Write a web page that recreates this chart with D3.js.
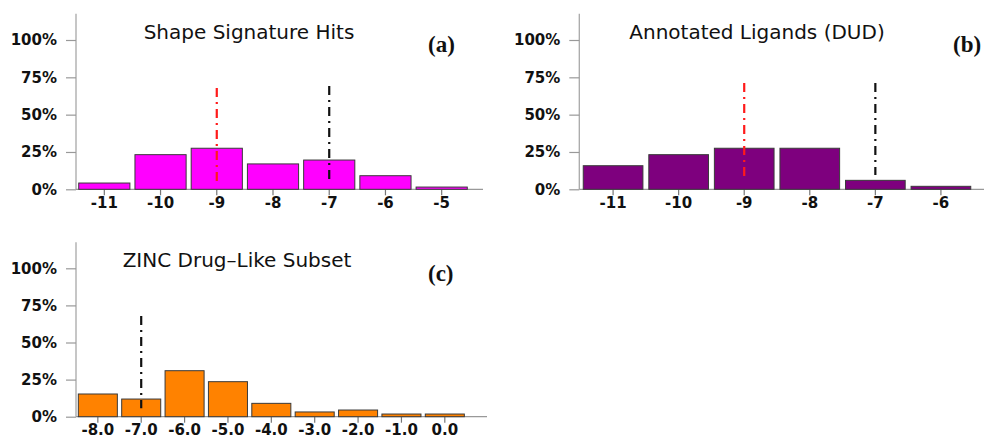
<!DOCTYPE html>
<html><head><meta charset="utf-8">
<script src="https://cdn.jsdelivr.net/npm/d3@7"></script>
<style>html,body{margin:0;padding:0;background:#fff;}svg{display:block;}</style>
</head><body>
<svg id="chart" width="984" height="438"></svg>
<script>
// ---- data ----
const yTickValues = [0, 25, 50, 75, 100];
const yTickLabels = ["0%", "25%", "50%", "75%", "100%"];

const catsA = ["-11", "-10", "-9", "-8", "-7", "-6", "-5"];
const valsA = [4.2, 23.2, 27.5, 17.0, 19.6, 9.1, 1.5];

const catsB = ["-11", "-10", "-9", "-8", "-7", "-6"];
const valsB = [15.8, 23.2, 27.5, 27.5, 6.0, 2.0];

const catsC = ["-8.0", "-7.0", "-6.0", "-5.0", "-4.0", "-3.0", "-2.0", "-1.0", "0.0"];
const valsC = [15.3, 11.9, 31.0, 23.6, 9.0, 3.2, 4.5, 1.8, 1.8];

const titles = ["Shape Signature Hits", "Annotated Ligands (DUD)", "ZINC Drug\u2013Like Subset"];
const tags = ["(a)", "(b)", "(c)"];
// reference lines: [category, from %, to %, colour-key]
const refA = [["-9", 5.1, 67.8, "red"], ["-7", 6.2, 69.2, "black"]];
const refB = [["-9", 8.4, 71.2, "red"], ["-7", 9.6, 71.2, "black"]];
const refC = [["-7.0", 5.7, 67.9, "black"]];

// ---- layout ----
const svg = d3.select("#chart");
const panels = [
  {cats: catsA, vals: valsA, refs: refA, fill: "#ff00ff", axisX: 76, xr: [76.2, 469.8], pad: 0.09, y0: 189.3, y100: 40, axisEnd: 483, titleX: 249, titleY: 39, tagX: 428, tagY: 52, pi: 0},
  {cats: catsB, vals: valsB, refs: refB, fill: "#7e007e", axisX: 579.3, xr: [580.3, 973.7], pad: 0.09, y0: 189.3, y100: 40, axisEnd: 984, titleX: 757, titleY: 39, tagX: 953, tagY: 52, pi: 1},
  {cats: catsC, vals: valsC, refs: refC, fill: "#ff8200", axisX: 76, xr: [76.15, 466.5], pad: 0.1, y0: 416.7, y100: 268.3, axisEnd: 487, titleX: 237, titleY: 267, tagX: 428, tagY: 281, pi: 2}
];
const refColor = {red: "#ff1a1a", black: "#111"};

panels.forEach(p => {
  const g = svg.append("g");
  const x = d3.scaleBand().domain(p.cats).range(p.xr).paddingInner(p.pad).paddingOuter(p.pad / 2);
  const y = d3.scaleLinear().domain([0, 100]).range([p.y0, p.y100]);

  // y axis line (extends above 100%)
  g.append("line").attr("x1", p.axisX).attr("x2", p.axisX)
    .attr("y1", y(0)).attr("y2", y(117.5))
    .attr("stroke", "#a8a8a8").attr("stroke-width", 1.3);

  // y axis ticks + labels
  const yAxis = d3.axisLeft(y).tickValues(yTickValues)
    .tickFormat((d, i) => yTickLabels[i]).tickSize(10).tickPadding(9);
  const ya = g.append("g").attr("transform", `translate(${p.axisX},0)`).call(yAxis);
  ya.select(".domain").remove();
  ya.selectAll(".tick line").attr("stroke", "#999").attr("stroke-width", 1.2);
  ya.selectAll(".tick text").attr("fill", "#111")
    .style("font-family", "'DejaVu Sans', sans-serif").style("font-weight", "bold").style("font-size", "15px");

  // x axis baseline
  g.append("line").attr("x1", p.axisX).attr("x2", p.axisEnd)
    .attr("y1", y(0)).attr("y2", y(0)).attr("stroke", "#999").attr("stroke-width", 1.3);

  // x axis ticks + labels
  const xAxis = d3.axisBottom(x).tickSize(6).tickPadding(2);
  const xa = g.append("g").attr("transform", `translate(0,${y(0)})`).call(xAxis);
  xa.select(".domain").remove();
  xa.selectAll(".tick line").attr("stroke", "#777").attr("stroke-width", 1.2);
  xa.selectAll(".tick text").attr("fill", "#111")
    .style("font-family", "'DejaVu Sans', sans-serif").style("font-weight", "bold").style("font-size", "15px");

  // bars
  g.selectAll("rect.bar").data(p.cats.map((c, i) => ({c, v: p.vals[i]}))).enter()
    .append("rect").attr("class", "bar")
    .attr("x", d => x(d.c)).attr("width", x.bandwidth())
    .attr("y", d => y(d.v)).attr("height", d => y(0) - y(d.v))
    .attr("fill", p.fill).attr("stroke", "#3a3a3a").attr("stroke-width", 1);

  // reference dash-dot lines
  p.refs.forEach(r => {
    const cx = x(r[0]) + x.bandwidth() / 2;
    g.append("line").attr("x1", cx).attr("x2", cx)
      .attr("y1", y(r[2])).attr("y2", y(r[1]))
      .attr("stroke", refColor[r[3]]).attr("stroke-width", 2.2)
      .attr("stroke-dasharray", "9,5,2,5");
  });

  // title
  g.append("text").attr("x", p.titleX).attr("y", p.titleY).attr("text-anchor", "middle")
    .style("font-family", "'DejaVu Sans', sans-serif").style("font-size", "20px").attr("fill", "#111")
    .text(titles[p.pi]);
  // tag
  g.append("text").attr("x", p.tagX).attr("y", p.tagY)
    .style("font-family", "'Liberation Serif', serif").style("font-weight", "bold").style("font-size", "23px").attr("fill", "#111")
    .text(tags[p.pi]);
});
</script>
</body></html>
